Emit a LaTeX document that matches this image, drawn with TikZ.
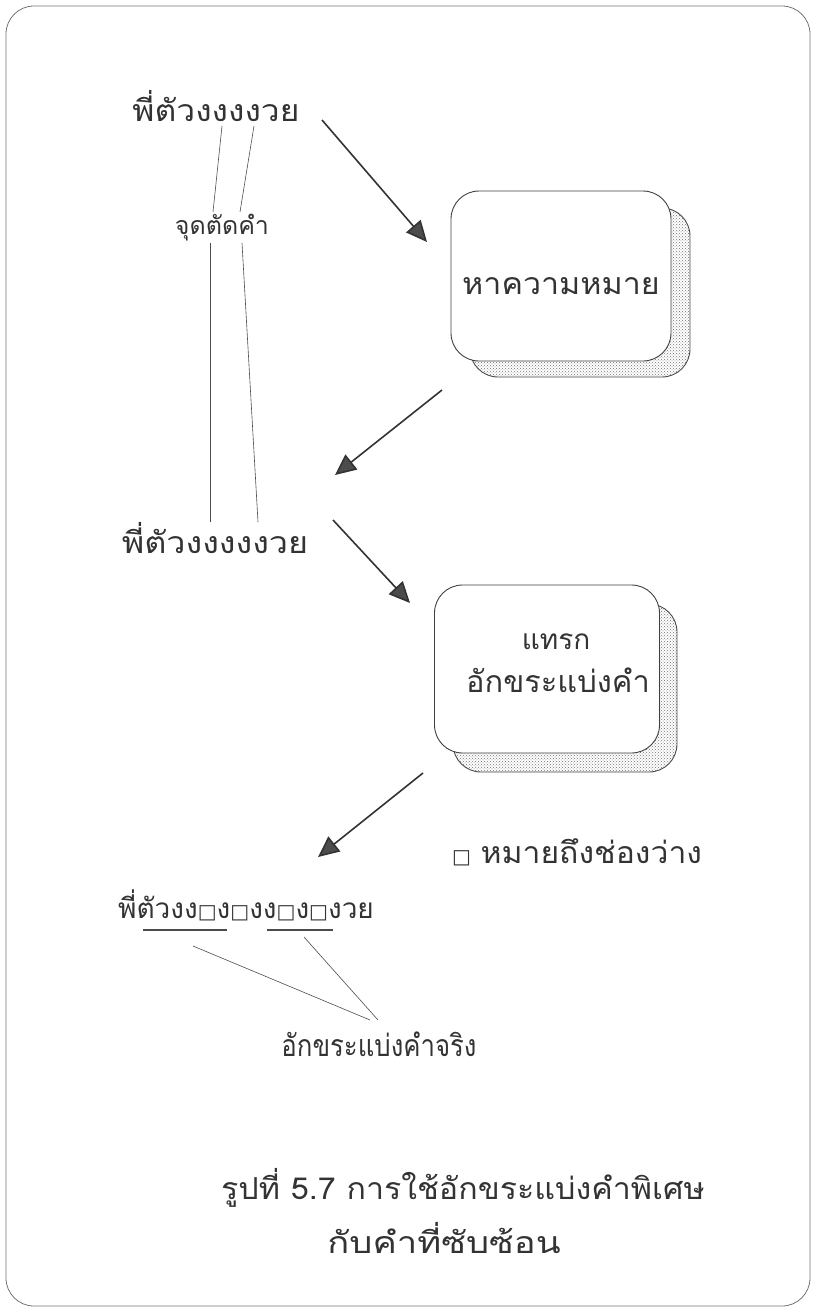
\documentclass[tikz,border=0pt]{standalone}
\usepackage{graphicx}
\usepackage{fontspec}
\newfontfamily\thai[Script=Thai]{Loma}
\newfontfamily\symf{DejaVu Sans}
\usetikzlibrary{arrows.meta,patterns}
\newcommand{\sqb}{{\symf\fontsize{20}{22}\selectfont □}}
\newcommand{\xs}[2]{\scalebox{#1}[1.08]{#2}}
\tikzset{
  thtext/.style={font=\thai\fontsize{28}{30}\selectfont, text=black!80, inner sep=0pt},
  smtext/.style={font=\thai\fontsize{25}{27}\selectfont, text=black!80, inner sep=0pt},
  thinln/.style={draw=black!70, line width=0.6pt},
  bigarrow/.style={draw=black!80, line width=1.6pt, -{Triangle[length=21pt,width=19pt,fill=black!70]}},
  mainbox/.style={draw=black!75, line width=0.9pt, rounded corners=28pt, fill=white},
  shadowbox/.style={draw=black!70, line width=0.9pt, rounded corners=28pt, pattern=crosshatch dots, pattern color=black!55},
  uline/.style={draw=black!70, line width=2.5pt}
}
\begin{document}
\begin{tikzpicture}[x=1pt,y=-1pt]
\useasboundingbox (0,0) rectangle (816,1312);
% outer frame
\draw[black!55, line width=0.8pt, rounded corners=28pt] (6,6) rectangle (810,1306);

% top word
\node[thtext] (w1) at (216,106) {\xs{1.2}{พี่ตัวงงงงวย}};
\node[smtext] (cut) at (222,228) {จุดตัดคำ};
\coordinate (c1a) at (222,126);
\coordinate (c1b) at (254,126);
\coordinate (c2a) at (213,212);
\coordinate (c2b) at (240,212);
\draw[thinln] (c1a) -- (c2a);
\draw[thinln] (c1b) -- (c2b);
\coordinate (d1a) at (210,243);
\coordinate (d1b) at (242,243);
\coordinate (d2a) at (210,522);
\coordinate (d2b) at (258,522);
\draw[thinln] (d1a) -- (d2a);
\draw[thinln] (d1b) -- (d2b);

% box 1
\draw[shadowbox] (470,208) rectangle (690,377);
\node[mainbox, minimum width=220pt, minimum height=170pt] (b1) at (561,276) {};
\node[thtext] (b1t) at (561,286) {\xs{1.15}{หาความหมาย}};

\coordinate (a1s) at (322,120);
\coordinate (a1e) at (427,242);
\draw[bigarrow] (a1s) -- (a1e);

\coordinate (a2s) at (442,390);
\coordinate (a2e) at (335,475);
\draw[bigarrow] (a2s) -- (a2e);

% middle word
\node[thtext] (w2) at (215,538) {\xs{1.22}{พี่ตัวงงงงงวย}};

\coordinate (a3s) at (333,520);
\coordinate (a3e) at (410,603);
\draw[bigarrow] (a3s) -- (a3e);

% box 2
\draw[shadowbox] (453,604) rectangle (677,772);
\node[mainbox, minimum width=225pt, minimum height=168pt] (b2) at (547,669) {};
\node[thtext] (b2t1) at (556,642) {แทรก};
\node[thtext] (b2t2) at (558,680) {\xs{1.1}{อักขระแบ่งคำ}};

\coordinate (a4s) at (423,773);
\coordinate (a4e) at (318,857);
\draw[bigarrow] (a4s) -- (a4e);

% legend
\node[thtext, anchor=west] (leg) at (452,852) {\sqb\ \xs{1.14}{หมายถึงช่องว่าง}};

% bottom word
\node[thtext] (w3) at (246,905) {พี่ตัวงง\sqb ง\sqb งง\sqb ง\sqb งวย};
\coordinate (u1a) at (143,930);
\coordinate (u1b) at (227,930);
\coordinate (u2a) at (267,930);
\coordinate (u2b) at (333,930);
\draw[uline] (u1a) -- (u1b);
\draw[uline] (u2a) -- (u2b);

\node[thtext] (lab) at (379,1044) {\xs{0.92}{อักขระแบ่งคำจริง}};
\coordinate (l1s) at (193,946);
\coordinate (l2s) at (304,937);
\coordinate (le1) at (370,1020);
\coordinate (le2) at (378,1020);
\draw[thinln] (l1s) -- (le1);
\draw[thinln] (l2s) -- (le2);

% caption
\node[thtext] (cap1) at (463,1188) {\xs{1.15}{รูปที่ 5.7 การใช้อักขระแบ่งคำพิเศษ}};
\node[thtext] (cap2) at (444,1238) {\xs{1.3}{กับคำที่ซับซ้อน}};
\end{tikzpicture}
\end{document}
